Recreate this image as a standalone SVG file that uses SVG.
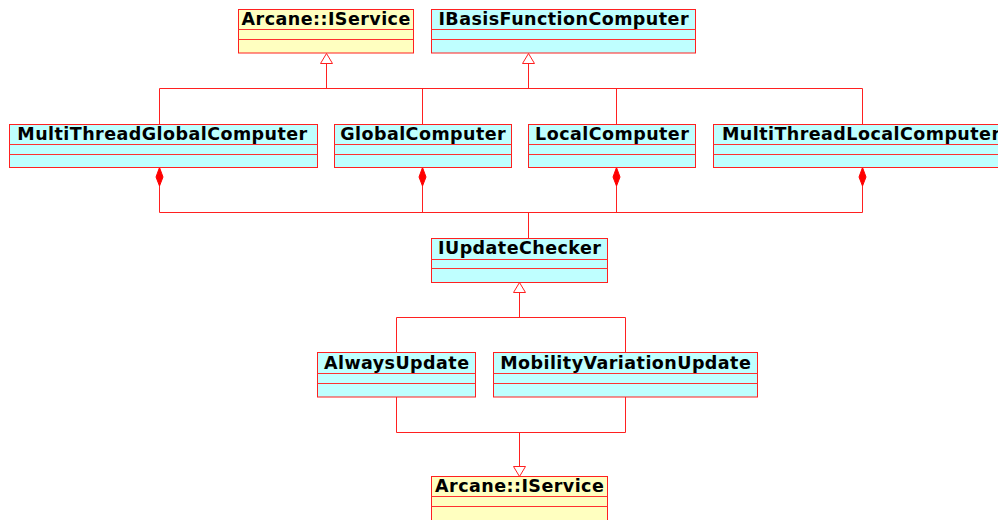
<svg xmlns="http://www.w3.org/2000/svg" width="998" height="520" viewBox="0 0 998 520">
<style>
.box{stroke:#ff2020;stroke-width:1}
.cy{fill:#bfffff}
.ye{fill:#ffffc0}
.sep{fill:none;stroke:#ff3030;stroke-width:1}
.t{font-family:"DejaVu Sans",sans-serif;font-weight:bold;font-size:17.5px;letter-spacing:0.45px;fill:#000;text-anchor:middle}
.c{fill:none;stroke:#ff2020;stroke-width:1}
.tri{fill:#fff;stroke:#ff2020;stroke-width:1}
.dia{fill:#ff0000;stroke:#ff0000;stroke-width:1}
</style>
<rect width="998" height="520" fill="#fff"/>
<g id="connectors">
<path class="c" d="M326.5,63 V88.5 M528.5,63 V88.5 M159.5,124.5 V88.5 H862.5 V124.5 M422.5,88.5 V124.5 M616.5,88.5 V124.5"/>
<polygon class="tri" points="326.5,53.5 320.5,63.5 332.5,63.5"/>
<polygon class="tri" points="528.5,53.5 522.5,63.5 534.5,63.5"/>
<path class="c" d="M159.5,186 V212.5 H862.5 V186 M422.5,186 V212.5 M616.5,186 V212.5 M528.5,212.5 V238.5"/>
<polygon class="dia" points="159.5,167.5 163,177 159.5,186 156,177"/>
<polygon class="dia" points="422.5,167.5 426,177 422.5,186 419,177"/>
<polygon class="dia" points="616.5,167.5 620,177 616.5,186 613,177"/>
<polygon class="dia" points="862.5,167.5 866,177 862.5,186 859,177"/>
<path class="c" d="M519.5,292.5 V317.5 M396.5,352.5 V317.5 H625.5 V352.5"/>
<polygon class="tri" points="519.5,282.5 513.5,292.5 525.5,292.5"/>
<path class="c" d="M396.5,397 V432.5 H625.5 V397 M519.5,432.5 V466.5"/>
<polygon class="tri" points="519.5,476.5 513.5,466.5 525.5,466.5"/>
</g>
<g id="node-iservice-top">
<rect class="box ye" x="238.5" y="9.5" width="175" height="43.5"/>
<path class="sep" d="M238.5,29.5 H413.5 M238.5,39.5 H413.5"/>
<text class="t" x="326.2" y="25">Arcane::IService</text>
</g>
<g id="node-ibasis">
<rect class="box cy" x="431.5" y="9.5" width="264" height="43.5"/>
<path class="sep" d="M431.5,29.5 H695.5 M431.5,39.5 H695.5"/>
<text class="t" x="563.7" y="25">IBasisFunctionComputer</text>
</g>
<g id="node-mtglobal">
<rect class="box cy" x="9.5" y="124.5" width="308" height="43"/>
<path class="sep" d="M9.5,144.5 H317.5 M9.5,154.5 H317.5"/>
<text class="t" x="162.5" y="140">MultiThreadGlobalComputer</text>
</g>
<g id="node-global">
<rect class="box cy" x="334.5" y="124.5" width="177" height="43"/>
<path class="sep" d="M334.5,144.5 H511.5 M334.5,154.5 H511.5"/>
<text class="t" x="423.2" y="140">GlobalComputer</text>
</g>
<g id="node-local">
<rect class="box cy" x="528.5" y="124.5" width="167" height="43"/>
<path class="sep" d="M528.5,144.5 H695.5 M528.5,154.5 H695.5"/>
<text class="t" x="612.2" y="140">LocalComputer</text>
</g>
<g id="node-mtlocal">
<rect class="box cy" x="713.5" y="124.5" width="297" height="43"/>
<path class="sep" d="M713.5,144.5 H1010.5 M713.5,154.5 H1010.5"/>
<text class="t" x="861.2" y="140">MultiThreadLocalComputer</text>
</g>
<g id="node-iupdate">
<rect class="box cy" x="431.5" y="238.5" width="176" height="44"/>
<path class="sep" d="M431.5,259.5 H607.5 M431.5,268.5 H607.5"/>
<text class="t" x="519.7" y="254">IUpdateChecker</text>
</g>
<g id="node-always">
<rect class="box cy" x="317.5" y="352.5" width="158" height="44.5"/>
<path class="sep" d="M317.5,373.5 H475.5 M317.5,383.5 H475.5"/>
<text class="t" x="396.7" y="368.5">AlwaysUpdate</text>
</g>
<g id="node-mobility">
<rect class="box cy" x="493.5" y="352.5" width="264" height="44.5"/>
<path class="sep" d="M493.5,373.5 H757.5 M493.5,383.5 H757.5"/>
<text class="t" x="625.7" y="368.5">MobilityVariationUpdate</text>
</g>
<g id="node-iservice-bottom">
<rect class="box ye" x="431.5" y="476.5" width="176" height="55"/>
<path class="sep" d="M431.5,496.5 H607.5 M431.5,506.5 H607.5"/>
<text class="t" x="519.7" y="492">Arcane::IService</text>
</g>
</svg>
